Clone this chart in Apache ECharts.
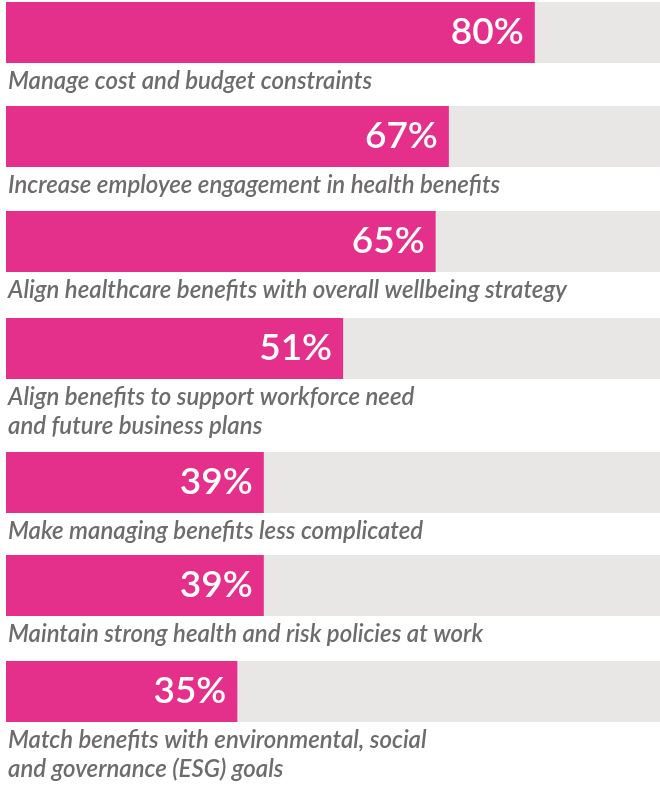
<!DOCTYPE html>
<html>
<head>
<meta charset="utf-8">
<script src="https://cdn.jsdelivr.net/npm/echarts@6/dist/echarts.min.js"></script>
<style>
  html, body { margin: 0; padding: 0; background: #fff; }
  #chart { width: 660px; height: 785px; }
</style>
</head>
<body>
<div id="chart"></div>
<script>
// data
const categories = [
  "Manage cost and budget constraints",
  "Increase employee engagement in health benefits",
  "Align healthcare benefits with overall wellbeing strategy",
  "Align benefits to support workforce need\nand future business plans",
  "Make managing benefits less complicated",
  "Maintain strong health and risk policies at work",
  "Match benefits with environmental, social\nand governance (ESG) goals"
];
const values = [80, 67, 65, 51, 39, 39, 35];

// layout: top of each row's bar (rows with 2-line labels take more room)
const rowTops = [2, 106, 211, 318, 452, 555, 661];
const barH = 61;

const pink = "#e4308b";
const track = "#e8e7e5";
const labelGrey = "#6e6b6b";

let chartDom = document.getElementById("chart");
let myChart = echarts.init(chartDom);

let grid = [], xAxis = [], yAxis = [], series = [];
categories.forEach((name, i) => {
  grid.push({ left: 6, top: rowTops[i], width: 661, height: barH, outerBoundsMode: "none" });
  xAxis.push({ type: "value", min: 0, max: 100, gridIndex: i, show: false });
  yAxis.push({ type: "category", data: [name], gridIndex: i, show: false });
  series.push({
    type: "bar",
    xAxisIndex: i,
    yAxisIndex: i,
    barWidth: barH,
    data: [values[i]],
    itemStyle: { color: pink },
    showBackground: true,
    backgroundStyle: { color: track },
    label: {
      show: true,
      position: "insideRight",
      distance: 11,
      formatter: "{c}%",
      color: "#fff",
      fontFamily: "Lato",
      fontWeight: 600,
      fontSize: 37
    }
  });
  // category text under the bar
  series.push({
    type: "bar",
    xAxisIndex: i,
    yAxisIndex: i,
    barWidth: barH,
    barGap: "-100%",
    silent: true,
    data: [values[i]],
    itemStyle: { color: "transparent" },
    label: {
      show: true,
      position: [2, barH + 4],
      align: "left",
      verticalAlign: "top",
      formatter: name,
      color: labelGrey,
      fontFamily: "Lato",
      fontStyle: "italic",
      fontWeight: 600,
      fontSize: 24,
      lineHeight: 29
    }
  });
});

let option = {
  animation: false,
  grid: grid,
  xAxis: xAxis,
  yAxis: yAxis,
  series: series
};
option && myChart.setOption(option);
</script>
</body>
</html>
